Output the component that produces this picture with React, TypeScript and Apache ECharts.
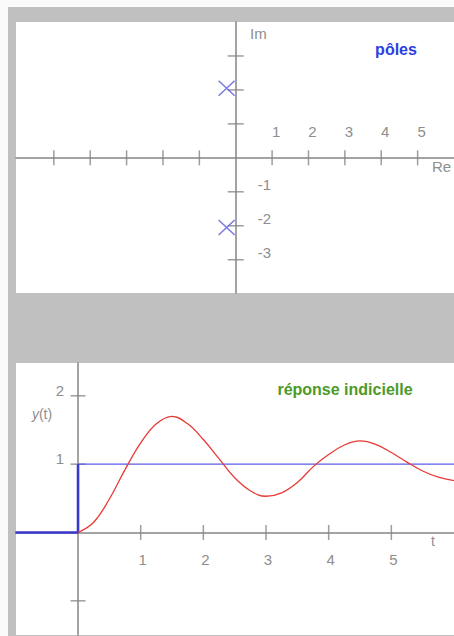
import React, { useEffect, useRef } from "react";
import * as echarts from "echarts";

// Pole-zero plane
const RE_TICKS = [-5, -4, -3, -2, -1, 1, 2, 3, 4, 5];
const IM_TICKS = [3, 2, 1, -1, -2, -3];
const RE_LABELS = [1, 2, 3, 4, 5];
const IM_LABELS = [-1, -2, -3];
const POLE_RE = [-0.25, -0.25];
const POLE_IM = [2.05, -2.05];

// Step response
const T_TICKS = [1, 2, 3, 4, 5];
const Y_TICKS = [2, 1, -1];
const T_LABELS = [1, 2, 3, 4, 5];
const Y_LABELS = [1, 2];
const TIME = [0, 0.25, 0.5, 0.75, 1, 1.25, 1.5, 1.75, 2, 2.25, 2.5, 2.75, 3, 3.25, 3.5, 3.75, 4, 4.25, 4.5, 4.75, 5, 5.25, 5.5, 5.75, 6];
const RESPONSE = [0, 0.15, 0.49, 0.92, 1.31, 1.59, 1.7, 1.59, 1.36, 1.08, 0.8, 0.61, 0.53, 0.58, 0.73, 0.96, 1.14, 1.28, 1.34, 1.29, 1.17, 1.03, 0.9, 0.81, 0.76];
const STEP_T = [-1, 0, 0];
const STEP_Y = [0, 0, 1];
const SETPOINT_T = [0, 6];
const SETPOINT_Y = [1, 1];

const GRAY = "#858585";
const LABEL = "#8e8e8e";
const FONT = "Liberation Sans, Arial, sans-serif";

// Plot areas and axis ranges
const TOP = { left: 16, top: 22, width: 438, height: 271, xMin: -6.04, xMax: 6, yMin: -3.98, yMax: 4 };
const BOT = { left: 16, top: 363, width: 438, height: 272, xMin: -0.99, xMax: 6, yMin: -1.5, yMax: 2.48 };

const zip = (a: number[], b: number[]) => a.map((v, i) => [v, b[i]]);

// Distance from the grid edge to the value 0 (axes cross at the origin)
const xZeroInset = (g: typeof TOP) => ((0 - g.xMin) / (g.xMax - g.xMin)) * g.width;
const yZeroInset = (g: typeof TOP) => ((0 - g.yMin) / (g.yMax - g.yMin)) * g.height;

export default function App() {
  const ref = useRef<HTMLDivElement>(null);

  useEffect(() => {
    if (!ref.current) return;
    const chart = echarts.init(ref.current, null, { renderer: "svg" });

    const axisLine = { onZero: false, lineStyle: { color: GRAY, width: 1.5 } };
    const labelBase = { color: LABEL, fontSize: 15, fontFamily: FONT };

    const tickSeries = (xi: number, data: number[][], size: number[]) => ({
      type: "scatter",
      xAxisIndex: xi,
      yAxisIndex: xi,
      data,
      symbol: "rect",
      symbolSize: size,
      silent: true,
      itemStyle: { color: GRAY },
      z: 1,
    });

    chart.setOption({
      animation: false,
      grid: [
        { left: TOP.left, top: TOP.top, width: TOP.width, height: TOP.height, containLabel: false, outerBoundsMode: "none" },
        { left: BOT.left, top: BOT.top, width: BOT.width, height: BOT.height, containLabel: false, outerBoundsMode: "none" },
      ],
      xAxis: [
        {
          gridIndex: 0, type: "value", min: TOP.xMin, max: TOP.xMax, position: "bottom", offset: -yZeroInset(TOP),
          axisLine, axisTick: { show: false }, splitLine: { show: false },
          axisLabel: { ...labelBase, customValues: RE_LABELS, inside: true, margin: 19, padding: [0, 0, 0, 8] },
        },
        {
          gridIndex: 1, type: "value", min: BOT.xMin, max: BOT.xMax, position: "bottom", offset: -yZeroInset(BOT),
          axisLine, axisTick: { show: false }, splitLine: { show: false },
          axisLabel: { ...labelBase, customValues: T_LABELS, margin: 20, padding: [0, 0, 0, 4] },
        },
      ],
      yAxis: [
        {
          gridIndex: 0, type: "value", min: TOP.yMin, max: TOP.yMax, position: "left", offset: -xZeroInset(TOP),
          axisLine, axisTick: { show: false }, splitLine: { show: false },
          axisLabel: { ...labelBase, customValues: IM_LABELS, inside: true, margin: 22, verticalAlign: "bottom", lineHeight: 15 },
        },
        {
          gridIndex: 1, type: "value", min: BOT.yMin, max: BOT.yMax, position: "left", offset: -xZeroInset(BOT),
          axisLine, axisTick: { show: false }, splitLine: { show: false },
          axisLabel: { ...labelBase, customValues: Y_LABELS, margin: 14, verticalAlign: "bottom", lineHeight: 11 },
        },
      ],
      graphic: [
        { type: "text", x: 396, y: 49, style: { text: "pôles", fill: "#2b3fe3", font: `bold 16px ${FONT}`, align: "center", verticalAlign: "middle" } },
        { type: "text", x: 345, y: 389, style: { text: "réponse indicielle", fill: "#4c9a2a", font: `bold 16px ${FONT}`, align: "center", verticalAlign: "middle" } },
        { type: "text", x: 250, y: 33, style: { text: "Im", fill: LABEL, font: `15px ${FONT}`, align: "left", verticalAlign: "middle" } },
        { type: "text", x: 432, y: 166, style: { text: "Re", fill: LABEL, font: `15px ${FONT}`, align: "left", verticalAlign: "middle" } },
        { type: "text", x: 433, y: 541, style: { text: "t", fill: LABEL, font: `14px ${FONT}`, align: "center", verticalAlign: "middle" } },
        {
          type: "text", x: 42, y: 414,
          style: {
            text: "{i|y}(t)", fill: LABEL, font: `14px ${FONT}`, align: "center", verticalAlign: "middle",
            rich: { i: { fontStyle: "italic", fontSize: 14, fontFamily: FONT, fill: LABEL } },
          },
        },
      ],
      series: [
        tickSeries(0, RE_TICKS.map((k) => [k, 0]), [1.5, 15]),
        tickSeries(0, IM_TICKS.map((k) => [0, k]), [16, 1.5]),
        tickSeries(1, T_TICKS.map((k) => [k, 0]), [1.5, 15]),
        tickSeries(1, Y_TICKS.map((k) => [0, k]), [15, 1.5]),
        {
          name: "pôles",
          type: "scatter",
          xAxisIndex: 0,
          yAxisIndex: 0,
          data: zip(POLE_RE, POLE_IM),
          symbol: "path://M0,0L16,15M16,0L0,15",
          symbolSize: [16, 15],
          itemStyle: { color: "rgba(0,0,0,0)", borderColor: "#5656dc", borderWidth: 1.4 },
          z: 5,
        },
        {
          name: "consigne",
          type: "line",
          xAxisIndex: 1,
          yAxisIndex: 1,
          data: zip(SETPOINT_T, SETPOINT_Y),
          showSymbol: false,
          lineStyle: { color: "#5c5ce8", width: 1.2 },
          z: 3,
        },
        {
          name: "échelon",
          type: "line",
          xAxisIndex: 1,
          yAxisIndex: 1,
          data: zip(STEP_T, STEP_Y),
          showSymbol: false,
          lineStyle: { color: "#3838cc", width: 2.6 },
          z: 4,
        },
        {
          name: "réponse indicielle",
          type: "line",
          xAxisIndex: 1,
          yAxisIndex: 1,
          data: zip(TIME, RESPONSE),
          smooth: 0.4,
          showSymbol: false,
          lineStyle: { color: "#e83a36", width: 1.3 },
          z: 5,
        },
      ],
    });

    return () => chart.dispose();
  }, []);

  return (
    <div style={{ position: "fixed", left: 0, top: 0, width: 454, height: 636, background: "#fafafa", overflow: "hidden" }}>
      <div style={{ position: "absolute", left: 8, top: 7, width: 460, height: 640, background: "#c0c0c0" }} />
      <div style={{ position: "absolute", left: 16, top: 22, width: 450, height: 271, background: "#ffffff" }} />
      <div style={{ position: "absolute", left: 16, top: 363, width: 450, height: 272, background: "#ffffff" }} />
      <div ref={ref} style={{ position: "absolute", left: 0, top: 0, width: 454, height: 636 }} />
    </div>
  );
}
